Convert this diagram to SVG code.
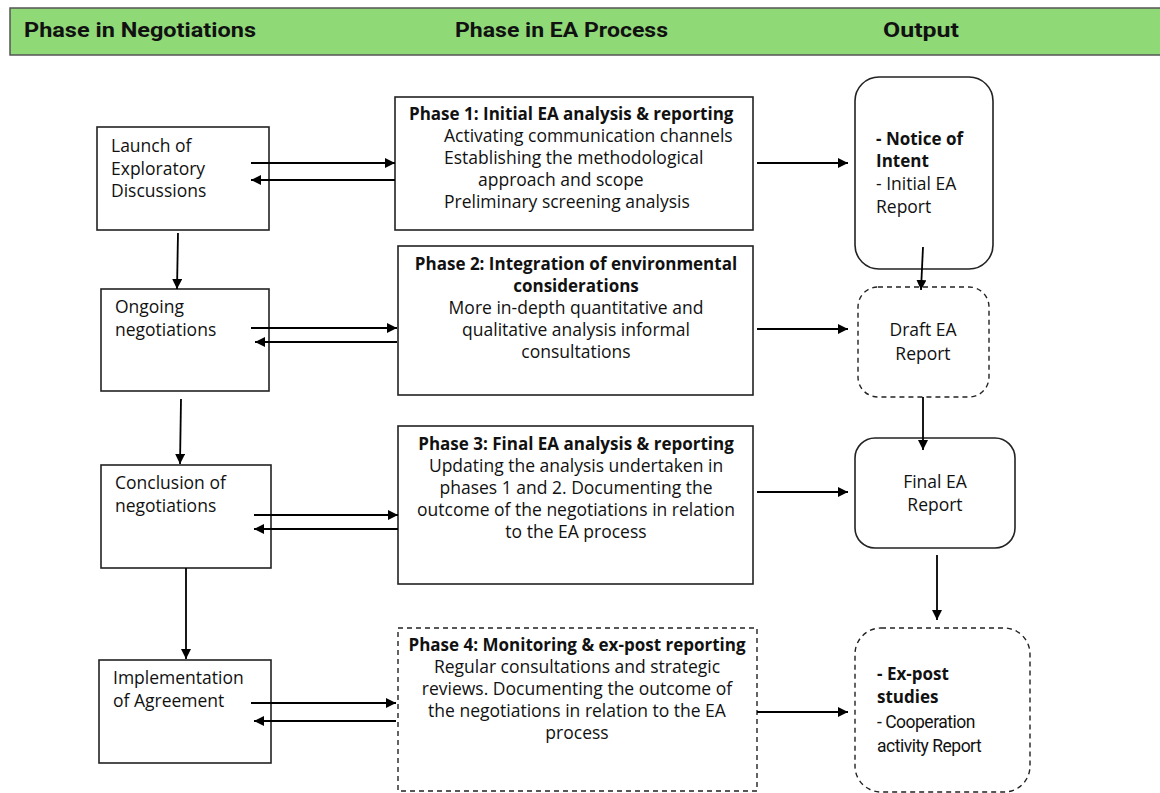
<svg xmlns="http://www.w3.org/2000/svg" width="1160" height="793" viewBox="0 0 1160 793">
  <defs>
    <marker id="arrow" viewBox="0 0 10 10" refX="10" refY="5" markerWidth="10" markerHeight="10" markerUnits="userSpaceOnUse" orient="auto">
      <path d="M0,0 L10,5 L0,10 Z" fill="#000"/>
    </marker>
    <style>
      .box { fill: #fff; stroke: #222; stroke-width: 1.6; }
      .dash { fill: #fff; stroke: #222; stroke-width: 1.4; stroke-dasharray: 5 4; }
      .hdr { font-family: Roboto, "Liberation Sans", sans-serif; font-weight: 700; font-size: 21px; fill: #111; }
      .t { font-family: "Open Sans", "Noto Sans", sans-serif; font-size: 17.5px; fill: #111; }
      .b { font-weight: 700; font-size: 17px; }
      .c { text-anchor: middle; }
      .narrow { font-family: Roboto, "Liberation Sans", sans-serif; font-size: 17.5px; letter-spacing: -0.5px; }
      .conn line { stroke: #000; stroke-width: 1.8; marker-end: url(#arrow); }
    </style>
  </defs>
  <rect width="1160" height="793" fill="#fff"/>

  <!-- column header band -->
  <g id="header">
    <rect x="10" y="8" width="1160" height="47" fill="#8fd977" stroke="#555" stroke-width="1.5"/>
    <text class="hdr" x="24" y="37" textLength="232" lengthAdjust="spacingAndGlyphs">Phase in Negotiations</text>
    <text class="hdr" x="455" y="37" textLength="213" lengthAdjust="spacingAndGlyphs">Phase in EA Process</text>
    <text class="hdr" x="883" y="37" textLength="76" lengthAdjust="spacingAndGlyphs">Output</text>
  </g>

  <!-- negotiation phases -->
  <g id="neg-launch">
    <rect class="box" x="97" y="127" width="172" height="103"/>
    <text class="t" x="111" y="152">Launch of</text>
    <text class="t" x="111" y="175">Exploratory</text>
    <text class="t" x="111" y="197">Discussions</text>
  </g>
  <g id="neg-ongoing">
    <rect class="box" x="101" y="289" width="168" height="102"/>
    <text class="t" x="115" y="313">Ongoing</text>
    <text class="t" x="115" y="336">negotiations</text>
  </g>
  <g id="neg-conclusion">
    <rect class="box" x="101" y="465" width="170" height="103"/>
    <text class="t" x="115" y="489">Conclusion of</text>
    <text class="t" x="115" y="512">negotiations</text>
  </g>
  <g id="neg-implementation">
    <rect class="box" x="99" y="660" width="172" height="103"/>
    <text class="t" x="113" y="684">Implementation</text>
    <text class="t" x="113" y="707">of Agreement</text>
  </g>

  <!-- EA process phases -->
  <g id="ea-phase1">
    <rect class="box" x="395" y="97" width="358" height="133"/>
    <text class="t b" x="409" y="120">Phase 1: Initial EA analysis &amp; reporting</text>
    <text class="t" x="444" y="142">Activating communication channels</text>
    <text class="t" x="444" y="164">Establishing the methodological</text>
    <text class="t" x="478" y="186">approach and scope</text>
    <text class="t" x="444" y="208">Preliminary screening analysis</text>
  </g>
  <g id="ea-phase2">
    <rect class="box" x="398" y="246" width="355" height="149"/>
    <text class="t b c" x="576" y="270">Phase 2: Integration of environmental</text>
    <text class="t b c" x="576" y="292">considerations</text>
    <text class="t c" x="576" y="314">More in-depth quantitative and</text>
    <text class="t c" x="576" y="336">qualitative analysis informal</text>
    <text class="t c" x="576" y="358">consultations</text>
  </g>
  <g id="ea-phase3">
    <rect class="box" x="398" y="426" width="355" height="158"/>
    <text class="t b c" x="576" y="450">Phase 3: Final EA analysis &amp; reporting</text>
    <text class="t c" x="576" y="472">Updating the analysis undertaken in</text>
    <text class="t c" x="576" y="494">phases 1 and 2. Documenting the</text>
    <text class="t c" x="576" y="516">outcome of the negotiations in relation</text>
    <text class="t c" x="576" y="538">to the EA process</text>
  </g>
  <g id="ea-phase4">
    <rect class="dash" x="398" y="628" width="359" height="163"/>
    <text class="t b c" x="577" y="651">Phase 4: Monitoring &amp; ex-post reporting</text>
    <text class="t c" x="577" y="673">Regular consultations and strategic</text>
    <text class="t c" x="577" y="695">reviews. Documenting the outcome of</text>
    <text class="t c" x="577" y="717">the negotiations in relation to the EA</text>
    <text class="t c" x="577" y="739">process</text>
  </g>

  <!-- outputs -->
  <g id="out-notice">
    <rect class="box" x="855" y="77" width="138" height="192" rx="24"/>
    <text class="t b" x="876" y="145">- Notice of</text>
    <text class="t b" x="876" y="167">Intent</text>
    <text class="t" x="876" y="190">- Initial EA</text>
    <text class="t" x="876" y="213">Report</text>
  </g>
  <g id="out-draft">
    <rect class="dash" x="858" y="287" width="131" height="110" rx="20"/>
    <text class="t c" x="923" y="336">Draft EA</text>
    <text class="t c" x="923" y="360">Report</text>
  </g>
  <g id="out-final">
    <rect class="box" x="855" y="438" width="160" height="110" rx="20"/>
    <text class="t c" x="935" y="488">Final EA</text>
    <text class="t c" x="935" y="511">Report</text>
  </g>
  <g id="out-expost">
    <rect class="dash" x="855" y="628" width="175" height="164" rx="26"/>
    <text class="t b" x="877" y="680">- Ex-post</text>
    <text class="t b" x="877" y="703">studies</text>
    <text class="t narrow" x="877" y="728">- Cooperation</text>
    <text class="t narrow" x="877" y="752">activity Report</text>
  </g>

  <!-- connectors -->
  <g id="connectors" class="conn">
    <!-- negotiation ⇄ EA phase -->
    <line x1="251" y1="163" x2="395" y2="163"/>
    <line x1="395" y1="180" x2="251" y2="180"/>
    <line x1="251" y1="328" x2="397" y2="328"/>
    <line x1="397" y1="342" x2="255" y2="342"/>
    <line x1="254" y1="515" x2="398" y2="515"/>
    <line x1="398" y1="529" x2="254" y2="529"/>
    <line x1="251" y1="703" x2="396" y2="703"/>
    <line x1="396" y1="721" x2="254" y2="721"/>
    <!-- EA phase → output -->
    <line x1="757" y1="163" x2="848" y2="163"/>
    <line x1="757" y1="329" x2="848" y2="329"/>
    <line x1="757" y1="492" x2="848" y2="492"/>
    <line x1="757" y1="712" x2="848" y2="712"/>
    <!-- negotiation sequence -->
    <line x1="178" y1="233" x2="177" y2="289"/>
    <line x1="181" y1="399" x2="180" y2="464"/>
    <line x1="186" y1="568" x2="186" y2="659"/>
    <!-- output sequence -->
    <line x1="923" y1="247" x2="921" y2="290"/>
    <line x1="923" y1="397" x2="923" y2="450"/>
    <line x1="937" y1="555" x2="937" y2="620"/>
  </g>
</svg>
